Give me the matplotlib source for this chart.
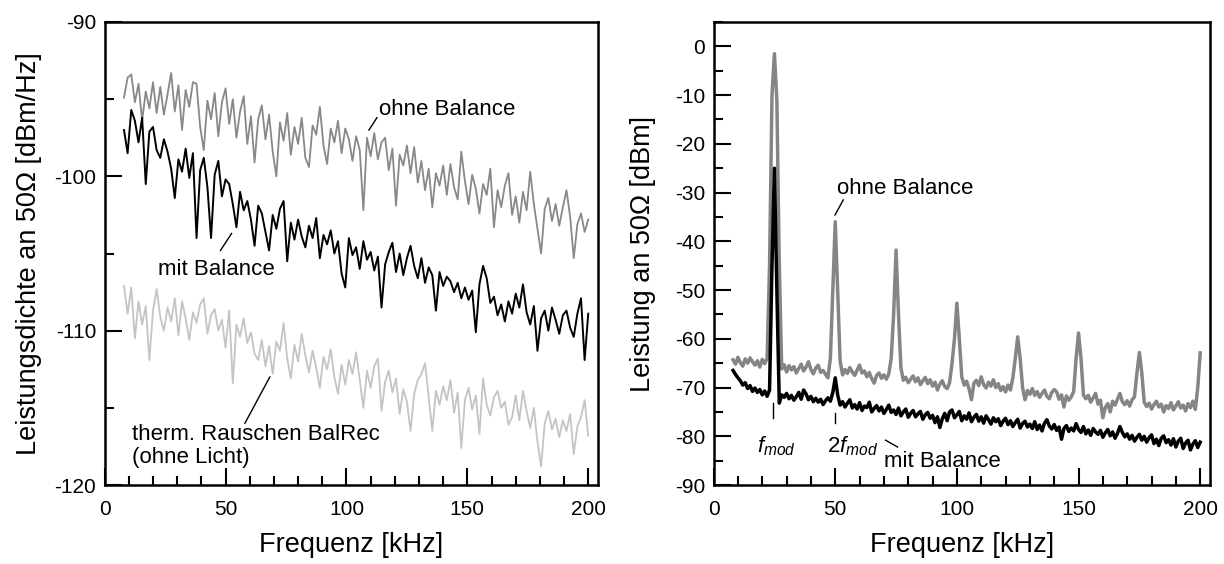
import numpy as np
import matplotlib
matplotlib.use("Agg")
import matplotlib.pyplot as plt
from matplotlib.ticker import MultipleLocator

plt.rcParams['font.family'] = ['Liberation Sans', 'DejaVu Sans']
plt.rcParams['mathtext.fontset'] = 'custom'
plt.rcParams['mathtext.rm'] = 'Liberation Sans'
plt.rcParams['mathtext.it'] = 'Liberation Sans:italic'
plt.rcParams['axes.unicode_minus'] = False

# linkes Bild: Leistungsdichte, Raster 8..200 kHz in 1.5 kHz Schritten
freq_l = np.arange(8, 200.1, 1.5)

ohne_l = [
    -94.9, -93.6, -93.4, -95.2, -94.0, -96.4, -94.5, -95.6, -93.9, -95.9,
    -94.2, -96.0, -94.7, -93.3, -95.8, -94.1, -97.0, -94.4, -95.5, -93.9,
    -94.0, -96.8, -98.3, -95.1, -96.3, -94.6, -97.4, -95.2, -94.3, -96.6,
    -95.0, -97.5, -95.8, -94.8, -97.9, -96.1, -99.1, -96.3, -95.4, -97.6,
    -96.0, -98.4, -100.0, -96.5, -97.7, -95.9, -98.6, -96.8, -97.9, -96.2,
    -98.8, -99.4, -96.7, -97.3, -95.5, -98.0, -99.2, -96.9, -97.8, -96.4,
    -98.5, -96.9, -97.6, -99.0, -97.4, -98.3, -102.2, -97.5, -98.7, -97.2,
    -98.9, -97.8, -97.5, -99.6, -98.2, -101.9, -98.6, -99.3, -98.0, -99.8,
    -98.1, -100.4, -99.0, -100.9, -99.5, -102.0, -99.8, -100.6, -99.3, -101.2,
    -99.2, -100.7, -101.5, -98.4, -100.3, -101.8, -99.9, -100.8, -102.4, -100.5,
    -101.2, -99.5, -103.3, -100.9, -102.0, -100.6, -99.8, -102.5, -101.3, -103.0,
    -101.0, -102.2, -99.7, -101.8, -103.4, -105.0, -102.1, -101.4, -102.9, -101.8,
    -103.2, -102.0, -100.9, -102.6, -105.3, -103.1, -102.4, -103.6, -102.8]

mit_l = [
    -97.0, -98.5, -95.7, -96.4, -97.8, -96.2, -100.5, -97.1, -96.8, -98.3,
    -98.8, -97.6, -98.4, -99.5, -101.4, -98.9, -99.7, -98.2, -100.1, -98.5,
    -104.0, -99.6, -98.8, -100.7, -104.0, -99.9, -99.0, -101.3, -100.2, -100.5,
    -101.8, -103.3, -101.0, -102.2, -101.6, -102.8, -104.5, -101.9, -102.4, -103.6,
    -104.8, -102.5, -103.4, -102.1, -101.6, -105.5, -103.0, -104.1, -102.8, -103.9,
    -104.6, -103.2, -104.0, -102.7, -105.3, -103.8, -104.4, -103.5, -105.0, -104.2,
    -106.3, -107.2, -104.0, -105.1, -104.6, -106.0, -104.2, -105.4, -104.9, -106.1,
    -105.2, -108.5, -105.7, -104.9, -104.3, -106.2, -105.0, -106.4, -105.3, -104.5,
    -105.8, -106.6, -105.3, -106.9, -105.9, -106.4, -108.7, -106.2, -107.1, -106.5,
    -106.8, -107.5, -106.9, -107.9, -107.2, -108.0, -107.4, -110.1, -107.0, -105.8,
    -106.6, -108.2, -107.8, -109.0, -108.3, -109.4, -108.1, -108.9, -107.6, -108.5,
    -107.0, -108.8, -109.6, -108.4, -111.3, -109.2, -108.7, -110.0, -108.5, -109.3,
    -110.2, -109.0, -108.7, -109.8, -110.4, -108.9, -107.9, -111.9, -108.9]

therm_l = [
    -107.1, -108.9, -107.2, -110.5, -108.1, -109.6, -108.4, -111.9, -108.7, -107.3,
    -109.1, -110.0, -108.5, -109.4, -107.9, -110.3, -108.1, -109.2, -110.6, -108.8,
    -109.5, -108.3, -107.9, -110.2, -109.0, -108.6, -110.0, -109.3, -111.1, -108.7,
    -113.4, -109.6, -110.4, -109.2, -110.8, -110.1, -111.5, -111.9, -110.6, -112.3,
    -111.0, -112.8, -110.7, -111.3, -109.5, -111.8, -113.1, -110.9, -112.0, -110.2,
    -111.6, -112.7, -111.3, -112.4, -113.7, -111.7, -112.5, -111.2, -113.0, -114.1,
    -112.2, -113.5, -111.9, -112.8, -111.4, -113.2, -115.0, -112.6, -113.7, -112.3,
    -111.8, -115.2, -113.3, -112.6, -114.0, -113.1, -115.4, -113.8, -114.6, -116.5,
    -114.1, -113.2, -112.8, -112.1, -114.3, -116.5, -113.9, -114.8, -113.6, -114.5,
    -113.2, -115.3, -114.0, -117.6, -114.5, -113.7, -115.1, -114.2, -116.7, -113.1,
    -114.8, -115.5, -114.3, -113.9, -115.0, -114.6, -116.1, -115.6, -114.2, -115.8,
    -113.9, -115.2, -116.3, -115.0, -117.2, -118.8, -116.0, -115.2, -116.4, -115.7,
    -116.9, -115.8, -116.5, -115.4, -118.0, -116.2, -115.6, -114.5, -116.8]

# rechtes Bild: Leistung, Raster 8..200 kHz in 1 kHz Schritten
freq_r = np.arange(8, 201, 1)

ohne_r = [
    -64.3, -65.2, -63.8, -64.9, -65.6, -64.1, -65.0, -63.9, -64.7, -65.4,
    -64.5, -65.8, -64.2, -65.1, -64.0, -45.0, -10.0, -1.5, -11.0, -45.0,
    -66.2, -65.3, -66.8, -65.5, -66.4, -65.7, -67.0, -66.1, -65.2, -66.6,
    -65.8, -64.7, -66.3, -67.2, -66.0, -65.4, -66.9, -66.5, -67.3, -68.0,
    -64.0, -50.0, -36.0, -50.0, -64.5, -67.4, -66.3, -67.1, -65.9, -66.8,
    -67.5, -66.4, -65.4, -67.0, -66.6, -67.8, -66.9, -68.2, -69.1, -67.5,
    -67.0, -68.1, -67.4, -68.3, -67.2, -64.0, -55.0, -41.8, -55.0, -66.0,
    -68.5, -67.9, -69.0, -68.3, -67.6, -68.8, -68.0, -69.4, -68.6, -67.9,
    -69.2, -68.4, -69.7, -68.9, -70.5, -69.3, -68.6, -69.8, -70.2, -69.0,
    -65.0, -60.0, -52.7, -60.0, -67.8, -69.5, -68.7, -70.3, -72.5, -69.1,
    -68.5, -69.6, -67.8, -69.4, -70.1, -68.9, -69.7, -68.4, -70.0, -69.2,
    -70.6, -69.8, -70.9, -69.5, -70.5, -68.0, -64.0, -59.6, -64.0, -70.0,
    -72.5, -70.6, -71.4, -70.2, -71.6, -70.8, -72.0, -71.2, -70.5, -71.8,
    -72.3, -71.0, -70.4, -70.9, -72.4, -71.5, -74.0, -71.7, -72.6, -71.9,
    -70.8, -64.0, -58.8, -64.0, -71.5, -72.3, -71.6, -73.0, -72.1, -71.2,
    -73.4, -72.6, -76.2, -74.1, -73.3, -75.0, -72.8, -73.6, -72.4, -71.2,
    -72.9, -73.5, -72.7, -73.8, -72.5, -71.9, -67.0, -62.8, -67.0, -73.0,
    -73.9, -73.2, -74.4, -73.5, -72.8, -74.0, -73.4, -75.0, -73.7, -74.3,
    -73.1, -74.6, -73.8, -72.9, -74.2, -73.6, -74.8, -73.3, -74.1, -72.8,
    -74.5, -70.0, -62.9]

mit_r = [
    -66.5, -67.3, -68.0, -68.6, -69.5, -69.0, -70.2, -69.6, -70.8, -70.1,
    -71.0, -70.4, -71.5, -70.7, -71.8, -70.5, -45.0, -25.0, -50.0, -73.2,
    -71.5, -72.0, -71.2, -72.3, -71.6, -72.6, -71.9, -71.0, -72.4, -70.5,
    -71.3, -72.5, -71.8, -72.9, -72.2, -73.0, -72.4, -73.5, -72.7, -72.1,
    -72.8, -71.0, -68.0, -71.5, -73.6, -72.9, -74.0, -73.2, -72.5, -74.2,
    -73.5, -74.4, -73.1, -74.7, -73.8, -74.1, -73.0, -75.0, -74.3, -73.7,
    -74.8, -74.0, -75.3, -74.5, -73.6, -75.1, -74.6, -75.5, -74.2, -75.8,
    -75.0, -74.4, -76.1, -75.3, -74.7, -76.0, -75.4, -74.9, -76.5, -75.6,
    -75.1, -76.3, -75.7, -77.2, -76.0, -78.2, -76.4, -75.3, -76.8, -75.0,
    -74.6, -76.2, -75.6, -74.9, -76.8, -75.8, -76.5, -75.2, -77.0, -76.1,
    -75.5, -76.9, -76.0, -77.3, -75.8, -76.6, -77.5, -76.2, -77.0, -76.4,
    -77.8, -76.9, -76.3, -77.6, -76.8, -78.0, -77.2, -76.5, -78.3, -77.4,
    -76.9, -78.1, -77.5, -78.4, -77.0, -78.6, -77.7, -78.9, -77.3, -76.6,
    -77.9, -78.5, -77.6, -78.8, -78.1, -80.6, -78.4, -77.8, -79.0, -78.3,
    -78.9, -77.4, -78.6, -79.2, -78.0, -79.5, -78.7, -79.8, -78.4, -79.1,
    -79.6, -78.8, -80.2, -79.3, -78.6, -79.9, -79.1, -80.4, -79.4, -78.0,
    -79.2, -80.1, -79.5, -80.6, -79.8, -81.0, -80.2, -79.6, -80.8, -80.0,
    -81.2, -80.3, -79.7, -81.5, -80.6, -81.9, -80.4, -79.9, -81.3, -80.7,
    -81.8, -80.5, -82.2, -81.0, -80.4, -82.5, -81.4, -80.8, -82.8, -81.6,
    -80.9, -82.3, -81.2]


def style_axes(ax):
    for s in ax.spines.values():
        s.set_linewidth(1.8)
    ax.tick_params(which='both', direction='in', top=False, right=False,
                   width=1.5, labelsize=15)
    ax.tick_params(which='major', length=12)
    ax.tick_params(which='minor', length=6.5)
    ax.tick_params(axis='x', pad=11)
    ax.tick_params(axis='y', pad=6)
    ax.xaxis.set_major_locator(MultipleLocator(50))
    ax.xaxis.set_minor_locator(MultipleLocator(10))
    ax.set_xlim(0, 204)
    ax.set_xlabel("Frequenz [kHz]", fontsize=19.5, labelpad=9)


fig = plt.figure(figsize=(12.24, 5.64), dpi=100)
ax1 = fig.add_axes([0.0855, 0.140, 0.403, 0.821])
ax2 = fig.add_axes([0.583, 0.140, 0.4055, 0.821])

# links
ax1.plot(freq_l, therm_l, color='#c4c4c4', lw=1.3)
ax1.plot(freq_l, ohne_l, color='#888888', lw=1.3)
ax1.plot(freq_l, mit_l, color='black', lw=1.4)
style_axes(ax1)
ax1.set_ylim(-120, -90)
ax1.yaxis.set_major_locator(MultipleLocator(10))
ax1.yaxis.set_minor_locator(MultipleLocator(5))
ax1.set_ylabel("Leistungsdichte an 50\u03a9 [dBm/Hz]", fontsize=19.5)
ax1.yaxis.set_label_coords(-0.127, 0.5)

ax1.text(113.5, -96.0, "ohne Balance", fontsize=16, va='baseline')
ax1.plot([112.6, 109.3], [-96.2, -97.0], color='black', lw=1)
ax1.text(22.0, -106.4, "mit Balance", fontsize=16, va='baseline')
ax1.plot([47.9, 52.5], [-104.8, -103.7], color='black', lw=1)
ax1.text(11.2, -117.1, "therm. Rauschen BalRec", fontsize=16, va='baseline')
ax1.text(11.2, -118.6, "(ohne Licht)", fontsize=16, va='baseline')
ax1.plot([58.0, 68.3], [-116.0, -113.0], color='black', lw=1)

# rechts
ax2.plot(freq_r, ohne_r, color='#858585', lw=2.5)
ax2.plot(freq_r, mit_r, color='black', lw=2.5)
style_axes(ax2)
ax2.set_ylim(-90, 5)
ax2.yaxis.set_major_locator(MultipleLocator(10))
ax2.yaxis.set_minor_locator(MultipleLocator(5))
ax2.set_ylabel("Leistung an 50\u03a9 [dBm]", fontsize=19.5)
ax2.yaxis.set_label_coords(-0.116, 0.5)

ax2.text(50.6, -30.3, "ohne Balance", fontsize=16, va='baseline')
ax2.plot([49.9, 53.3], [-34.6, -31.5], color='black', lw=1)
ax2.plot([24.3, 24.3], [-73.2, -76.3], color='black', lw=1)
ax2.plot([49.9, 49.9], [-75.3, -77.3], color='black', lw=1)
ax2.text(17.8, -83.4, "$f_{mod}$", fontsize=16, va='baseline')
ax2.text(46.7, -83.4, "2$f_{mod}$", fontsize=16, va='baseline')
ax2.text(70.0, -86.3, "mit Balance", fontsize=16, va='baseline')
ax2.plot([70.7, 75.6], [-80.8, -82.2], color='black', lw=1)

fig.savefig("out.png", dpi=100)
